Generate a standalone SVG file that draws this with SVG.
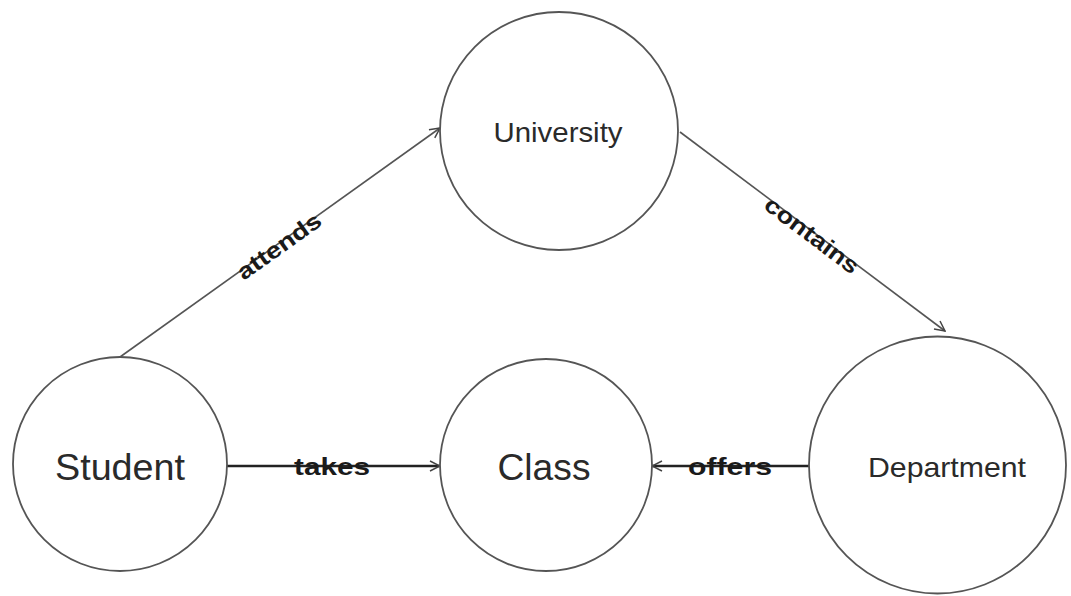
<svg xmlns="http://www.w3.org/2000/svg" width="1071" height="596" viewBox="0 0 1071 596">
<style>
.node{fill:#fff;stroke:#555;stroke-width:1.8}
.nlabel{font-family:"Liberation Sans",Arial,sans-serif;fill:#2a2a2a;text-anchor:middle;dominant-baseline:central}
.edge{fill:none;stroke:#555;stroke-width:1.6}
.edge2{fill:none;stroke:#222;stroke-width:2.4}
.elabel{font-family:"Liberation Sans",Arial,sans-serif;font-weight:bold;font-size:23px;fill:#1a1a1a;text-anchor:middle;dominant-baseline:central}
</style>
<defs>
<marker id="arr" viewBox="0 0 12 12" refX="11" refY="6" markerWidth="12" markerHeight="12" markerUnits="userSpaceOnUse" orient="auto">
<path d="M1,1 L11,6 L1,11" fill="none" stroke="#444" stroke-width="1.5"/>
</marker>
</defs>
<rect width="1071" height="596" fill="#fff"/>
<g id="connectors">
<line class="edge" x1="120" y1="357" x2="440" y2="128" marker-end="url(#arr)"/>
<line class="edge" x1="680" y1="132" x2="945" y2="331" marker-end="url(#arr)"/>
<line class="edge2" x1="227" y1="466" x2="440" y2="466" marker-end="url(#arr)"/>
<line class="edge2" x1="809" y1="466" x2="652" y2="466" marker-end="url(#arr)"/>
<text class="elabel" transform="translate(279,246) rotate(-35.6)" textLength="98" lengthAdjust="spacingAndGlyphs">attends</text>
<text class="elabel" transform="translate(812,235) rotate(36.9)" textLength="112" lengthAdjust="spacingAndGlyphs">contains</text>
<text class="elabel" x="332" y="467" textLength="76" lengthAdjust="spacingAndGlyphs">takes</text>
<text class="elabel" x="730" y="467" textLength="84" lengthAdjust="spacingAndGlyphs">offers</text>
</g>
<g id="node-university">
<circle class="node" cx="559" cy="131" r="119"/>
<text class="nlabel" x="558" y="132" font-size="28" textLength="129" lengthAdjust="spacingAndGlyphs">University</text>
</g>
<g id="node-student">
<circle class="node" cx="120" cy="464" r="107"/>
<text class="nlabel" x="120" y="467" font-size="37" textLength="130" lengthAdjust="spacingAndGlyphs">Student</text>
</g>
<g id="node-class">
<circle class="node" cx="546" cy="465" r="106"/>
<text class="nlabel" x="544" y="467" font-size="37" textLength="93" lengthAdjust="spacingAndGlyphs">Class</text>
</g>
<g id="node-department">
<circle class="node" cx="937.5" cy="465" r="128.5"/>
<text class="nlabel" x="947" y="467" font-size="28" textLength="158" lengthAdjust="spacingAndGlyphs">Department</text>
</g>
</svg>
